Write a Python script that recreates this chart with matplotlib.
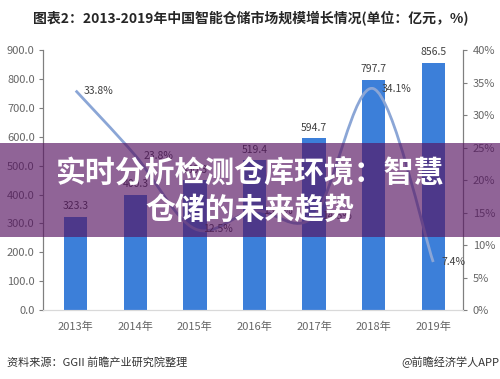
import matplotlib
matplotlib.use("Agg")
import matplotlib.pyplot as plt
from matplotlib.path import Path
from matplotlib.patches import PathPatch, Rectangle

plt.rcParams['font.family'] = ['Noto Sans CJK SC', 'DejaVu Sans']

# data
years = ['2013年', '2014年', '2015年', '2016年', '2017年', '2018年', '2019年']
market_size = [323.3, 400.3, 450.3, 519.4, 594.7, 797.7, 856.5]
growth_rate = [33.8, 23.8, 12.5, 15.3, 14.5, 34.1, 7.4]
size_ticks = [0, 100, 200, 300, 400, 500, 600, 700, 800, 900]
rate_ticks = [0, 5, 10, 15, 20, 25, 30, 35, 40]

title = '图表2：2013-2019年中国智能仓储市场规模增长情况(单位：亿元，%)'
source = '资料来源：GGII 前瞻产业研究院整理'
brand = '@前瞻经济学人APP'
banner_lines = ['实时分析检测仓库环境：智慧', '仓储的未来趋势']

tick_color = '#666666'
label_color = '#404040'
bar_color = '#3c7fd9'
line_color = '#8ba6d6'


def smooth_path(xs, ys):
    """Bezier path through the points (Catmull-Rom style, like Excel smooth lines)"""
    pts = list(zip(xs, ys))
    verts = [pts[0]]
    codes = [Path.MOVETO]
    n = len(pts)
    for i in range(n - 1):
        p0 = pts[max(i - 1, 0)]
        p1 = pts[i]
        p2 = pts[i + 1]
        p3 = pts[min(i + 2, n - 1)]
        c1 = (p1[0] + (p2[0] - p0[0]) / 6, p1[1] + (p2[1] - p0[1]) / 6)
        c2 = (p2[0] - (p3[0] - p1[0]) / 6, p2[1] - (p3[1] - p1[1]) / 6)
        verts += [c1, c2, p2]
        codes += [Path.CURVE4] * 3
    return Path(verts, codes)


fig = plt.figure(figsize=(5, 3.79), dpi=100)
ax = fig.add_axes([0.086, 0.182, 0.84, 0.685])
ax2 = ax.twinx()

x = list(range(len(years)))
ax.bar(x, market_size, width=0.39, color=bar_color, zorder=2)
for xi, v in zip(x, market_size):
    ax.annotate(f'{v:.1f}', (xi, v), xytext=(0, 4), textcoords='offset points',
                ha='center', va='bottom', fontsize=7.5, color=label_color)

ax.set_xlim(-0.55, 6.5)
ax.set_ylim(0, 900)
ax.set_yticks(size_ticks)
ax.set_yticklabels([f'{t:.1f}' for t in size_ticks])
ax.set_xticks(x)
ax.set_xticklabels(years)
ax.tick_params(axis='x', length=0, pad=8, labelsize=8, labelcolor=tick_color)
ax.tick_params(axis='y', length=3, width=0.8, color='#7f7f7f', pad=3,
               labelsize=8, labelcolor=tick_color)

ax2.set_ylim(0, 40)
ax2.set_yticks(rate_ticks)
ax2.set_yticklabels([f'{t}%' for t in rate_ticks])
ax2.tick_params(axis='y', length=3, width=0.8, color='#7f7f7f', pad=4,
                labelsize=8, labelcolor=tick_color)

for a in (ax, ax2):
    a.spines['top'].set_visible(False)
    a.spines['left'].set_color('#7f7f7f')
    a.spines['right'].set_color('#7f7f7f')
    a.spines['bottom'].set_color('#d9d9d9')
    a.spines['left'].set_linewidth(0.8)
    a.spines['right'].set_linewidth(0.8)

ax2.add_patch(PathPatch(smooth_path(x, growth_rate), facecolor='none',
                        edgecolor=line_color, lw=2, zorder=3))
for xi, r in zip(x, growth_rate):
    ax2.annotate(f'{r}%', (xi, r), xytext=(6, 0), textcoords='offset points',
                 ha='left', va='center', fontsize=7.5, color=label_color)

fig.text(0.066, 0.952, title, fontsize=10, fontweight='bold', color='#262626',
         ha='left', va='center')
fig.text(0.014, 0.045, source, fontsize=8, color='#333333', ha='left', va='center')
fig.text(0.998, 0.045, brand, fontsize=8, color='#333333', ha='right', va='center')

# purple banner over the chart
fig.add_artist(Rectangle((0, 0.375), 1, 0.248, transform=fig.transFigure,
                         facecolor='#571462', alpha=0.66, edgecolor='none', zorder=5))
fig.text(0.5, 0.5435, banner_lines[0], fontsize=21.5, fontweight='bold', color='white',
         ha='center', va='center', zorder=6)
fig.text(0.5, 0.446, banner_lines[1], fontsize=21.5, fontweight='bold', color='white',
         ha='center', va='center', zorder=6)

fig.savefig('out.png', dpi=100)
